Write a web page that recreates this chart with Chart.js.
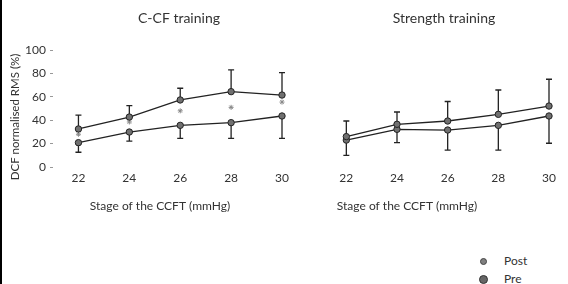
<!DOCTYPE html>
<html>
<head>
<meta charset="utf-8">
<script src="https://cdn.jsdelivr.net/npm/chart.js@4.4.0/dist/chart.umd.min.js"></script>
<style>
  body { margin: 0; background: #fff; }
  #wrap { position: relative; width: 568px; height: 284px; overflow: hidden; font-family: Lato, sans-serif; color: #333; }
  #edge { position: absolute; left: 0; top: 0; width: 2px; height: 284px; background: #000; }
  #leftChart { position: absolute; left: 0; top: 0; }
  #rightChart { position: absolute; left: 300px; top: 0; }
  .key { position: absolute; left: 479px; font-size: 12px; line-height: 14px; }
  .key span { position: absolute; border-radius: 50%; }
  .key b { font-weight: normal; position: absolute; left: 25px; top: -7px; }
</style>
</head>
<body>
<div id="wrap">
  <canvas id="leftChart" width="300" height="220"></canvas>
  <canvas id="rightChart" width="268" height="220"></canvas>
  <div id="edge"></div>
  <div class="key" style="top:261px"><span style="left:1px;top:-3px;width:5px;height:5px;background:#808080;border:1px solid #444"></span><b>Post</b></div>
  <div class="key" style="top:279px"><span style="left:0;top:-4px;width:7px;height:7px;background:#666;border:1px solid #333"></span><b>Pre</b></div>
</div>
<script>
// Valores
const stages = [22, 24, 26, 28, 30];
const yTicks = [0, 20, 40, 60, 80, 100];

const ccfPost = [32.5, 42.7, 57.3, 64.4, 61.5];
const ccfPostSD = [11.9, 9.7, 10, 18.6, 19.1];
const ccfPre = [20.8, 29.9, 35.6, 37.9, 43.6];
const ccfPreSD = [8.2, 7.7, 11.1, 13.4, 19.1];
const ccfStars = [28, 38.5, 48, 51, 55.5];

const strPost = [26, 36.5, 39.3, 45, 52.1];
const strPostSD = [13.3, 10.5, 16.7, 20.8, 22.9];
const strPre = [23, 32.2, 31.6, 35.6, 43.6];
const strPreSD = [13, 11.4, 17.1, 21.1, 23.3];

Chart.defaults.font.family = 'Lato, sans-serif';
Chart.defaults.color = '#333';

/**
 * Desenha as barras de erro (para cima no Post, para baixo no Pre)
 */
const errorBars = {
  id: 'errorBars',
  beforeDatasetsDraw(chart) {
    const { ctx, scales: { x, y } } = chart;
    ctx.save();
    ctx.strokeStyle = '#222';
    ctx.lineWidth = 1.3;
    chart.data.datasets.forEach(ds => {
      if (!ds.errors) return;
      ds.data.forEach((p, i) => {
        const px = x.getPixelForValue(p.x);
        const y0 = y.getPixelForValue(p.y);
        const y1 = y.getPixelForValue(p.y + ds.errorDir * ds.errors[i]);
        ctx.beginPath();
        ctx.moveTo(px, y0);
        ctx.lineTo(px, y1);
        ctx.moveTo(px - 3, y1);
        ctx.lineTo(px + 3, y1);
        ctx.stroke();
      });
    });
    ctx.restore();
  }
};

/**
 * Textos livres (títulos dos painéis e dos eixos)
 */
const captions = {
  id: 'captions',
  afterDraw(chart, args, opts) {
    const ctx = chart.ctx;
    (opts.items || []).forEach(it => {
      ctx.save();
      ctx.fillStyle = '#333';
      ctx.textAlign = 'center';
      ctx.textBaseline = 'middle';
      ctx.font = it.size + 'px Lato, sans-serif';
      ctx.translate(it.x, it.y);
      if (it.rotate) ctx.rotate(-Math.PI / 2);
      ctx.fillText(it.text, 0, 0);
      ctx.restore();
    });
  }
};

function points(values) {
  return stages.map((s, i) => ({ x: s, y: values[i] }));
}

function lineSet(label, values, errors, dir) {
  return {
    label: label,
    data: points(values),
    errors: errors,
    errorDir: dir,
    borderColor: '#222',
    borderWidth: 1.3,
    pointRadius: 3.2,
    pointBackgroundColor: '#707070',
    pointBorderColor: '#222',
    pointBorderWidth: 1,
    clip: false
  };
}

function xScale() {
  return {
    type: 'linear',
    min: 21,
    max: 30,
    afterBuildTicks: s => { s.ticks = stages.map(v => ({ value: v })); },
    afterFit: s => { s.height = 53; },
    grid: { display: false, drawTicks: false },
    border: { display: false },
    ticks: { font: { size: 12 }, padding: 4 }
  };
}

function buildChart(id, datasets, yAxis, pad, items) {
  return new Chart(document.getElementById(id), {
    type: 'line',
    data: { datasets: datasets },
    options: {
      responsive: false,
      animation: false,
      devicePixelRatio: 1,
      layout: { padding: pad },
      scales: { x: xScale(), y: yAxis },
      plugins: {
        legend: { display: false },
        tooltip: { enabled: false },
        captions: { items: items }
      }
    },
    plugins: [errorBars, captions]
  });
}

// Painel C-CF
buildChart('leftChart', [
  lineSet('Post', ccfPost, ccfPostSD, 1),
  lineSet('Pre', ccfPre, ccfPreSD, -1),
  {
    label: '*',
    data: points(ccfStars),
    showLine: false,
    pointStyle: 'star',
    pointRadius: 2.5,
    pointBorderColor: '#888',
    pointBorderWidth: 1,
    clip: false
  }
], {
  min: 0,
  max: 100,
  afterBuildTicks: s => { s.ticks = yTicks.map(v => ({ value: v })); },
  afterFit: s => { s.width = 53; },
  border: { display: false },
  grid: { drawOnChartArea: false, tickLength: 3, color: '#999' },
  ticks: { font: { size: 12 }, padding: 4 }
}, { top: 50, right: 18, left: 0, bottom: 0 }, [
  { text: 'C-CF training', x: 179, y: 18, size: 14 },
  { text: 'Stage of the CCFT (mmHg)', x: 160, y: 206, size: 12 },
  { text: 'DCF normalised RMS (%)', x: 15, y: 117, size: 11.5, rotate: true }
]);

// Painel força
buildChart('rightChart', [
  lineSet('Post', strPost, strPostSD, 1),
  lineSet('Pre', strPre, strPreSD, -1)
], {
  display: false,
  min: 0,
  max: 100
}, { top: 50, right: 19, left: 21, bottom: 0 }, [
  { text: 'Strength training', x: 144, y: 18, size: 14 },
  { text: 'Stage of the CCFT (mmHg)', x: 107, y: 206, size: 12 }
]);
</script>
</body>
</html>
